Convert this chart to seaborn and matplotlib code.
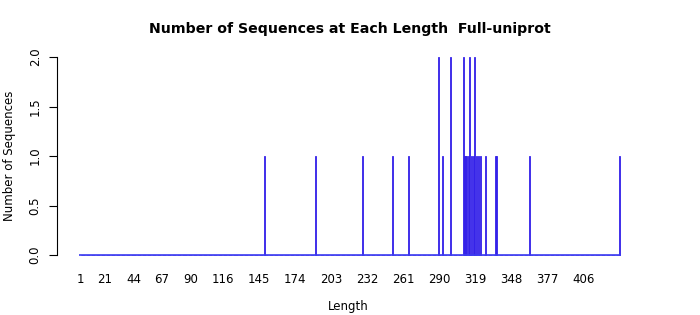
import numpy as np
import pandas as pd
import matplotlib
matplotlib.use("Agg")
import matplotlib.pyplot as plt
import seaborn as sns

# Data
max_length = 435
seq_lengths = [149, 190, 228, 252, 265, 289, 292, 299, 309, 310, 311, 312, 313,
               314, 316, 317, 318, 320, 321, 323, 327, 335, 336, 362, 435]
seq_counts = [1, 1, 1, 1, 1, 2, 1, 2, 2, 1, 1, 1, 1,
              2, 1, 1, 2, 1, 1, 1, 1, 1, 1, 1, 1]
tick_labels = [1, 21, 44, 67, 90, 116, 145, 174, 203, 232, 261, 290, 319, 348, 377, 406]
y_ticks = [0.0, 0.5, 1.0, 1.5, 2.0]

all_lengths = np.arange(1, max_length + 1)
counts_map = dict(zip(seq_lengths, seq_counts))
df = pd.DataFrame({"Length": all_lengths,
                   "Count": [counts_map.get(l, 0) for l in all_lengths]})

sns.set_style("white")
plt.rcParams['font.family'] = ['DejaVu Sans']
plt.rcParams['text.color'] = 'black'
plt.rcParams['axes.labelcolor'] = 'black'
plt.rcParams['xtick.color'] = 'black'
plt.rcParams['ytick.color'] = 'black'

W, H = 700, 315
fig = plt.figure(figsize=(W / 100, H / 100), dpi=100)
left_px, right_px, top_px, bottom_px = 57, 640, 49, 263
ax = fig.add_axes([left_px / W, 1 - bottom_px / H,
                   (right_px - left_px) / W, (bottom_px - top_px) / H])

sns.barplot(data=df, x="Length", y="Count", native_scale=True, ax=ax,
            color="#2e2eff", saturation=1, edgecolor="#3420e6",
            linewidth=0.6, width=0.8, errorbar=None)
ax.hlines(0, all_lengths[0] - 0.5, all_lengths[-1] + 0.5, color="#3b3bf0", linewidth=1.2)

# scales: value 1 at px 80, 1.244 px per unit
ppu = 1.244
ax.set_xlim(1 - (80 - left_px) / ppu, 1 + (right_px - 80) / ppu)
ypu = 99.0
ax.set_ylim(-(bottom_px - 255) / ypu, 2 + (57 - top_px) / ypu)

for s in ["top", "right", "bottom"]:
    ax.spines[s].set_visible(False)
ax.spines["left"].set_bounds(0, 2)
ax.spines["left"].set_linewidth(0.8)
ax.spines["left"].set_color("black")

ax.set_xticks(tick_labels)
ax.set_xticklabels([str(t) for t in tick_labels], fontsize=8.5)
ax.tick_params(axis="x", length=0, pad=7)
ax.set_yticks(y_ticks)
ax.set_yticklabels([f"{v:.1f}" for v in y_ticks], fontsize=8.5, rotation=90, va="center")
ax.tick_params(axis="y", length=6, width=0.8, pad=5, left=True)

ax.set_xlabel("Length", fontsize=8.5, labelpad=10)
ax.set_ylabel("Number of Sequences", fontsize=8.5, labelpad=9)
fig.text(350 / W, 1 - 29 / H, "Number of Sequences at Each Length  Full-uniprot",
         ha="center", va="center", fontsize=10.2, fontweight="bold")

fig.savefig("out.png", dpi=100)
